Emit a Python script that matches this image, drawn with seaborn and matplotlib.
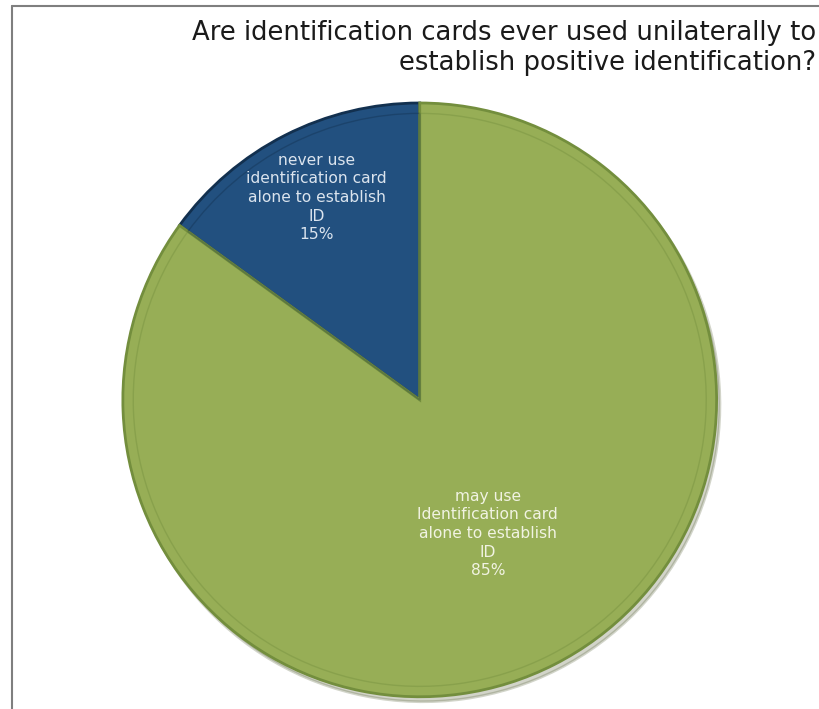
"""Pie chart: use of identification cards to establish positive ID."""
import matplotlib
matplotlib.use("Agg")
import matplotlib.pyplot as plt
from matplotlib.lines import Line2D
import numpy as np
import seaborn as sns

# -- Data ----------------------------------------------------------------------
labels = [
    "never use\nidentification card\nalone to establish\nID",
    "may use\nIdentification card\nalone to establish\nID",
]
shares = [15, 85]
colors = ["#22507f", "#97ae56"]
edge_colors = ["#12304f", "#738e3d"]
label_colors = ["#dbe4ee", "#f1f3e2"]
label_dist = [0.765, 0.505]

title = "Are identification cards ever used unilaterally to\nestablish positive identification?"

sns.set_theme(style="white")
plt.rcParams["font.family"] = ["DejaVu Sans"]

fig = plt.figure(figsize=(8.19, 7.09), dpi=100)
ax = fig.add_axes([0.150, 0.017, 0.725, 0.838])

wedges, _ = ax.pie(
    shares, colors=colors, startangle=90, counterclock=True,
    wedgeprops={"linewidth": 2.0},
    shadow={"ox": 0.008, "oy": -0.012, "shade": 0.5, "alpha": 0.25},
)
for w, ec in zip(wedges, edge_colors):
    w.set_edgecolor(ec)

# inner bevel ring
inner, _ = ax.pie(
    shares, colors=["none", "none"], startangle=90, radius=0.965,
    wedgeprops={"linewidth": 1.0, "fill": False},
)
for w, ec in zip(inner, edge_colors):
    w.set_edgecolor(ec)
    w.set_alpha(0.4)

for w, lab, pct, d, c in zip(wedges, labels, shares, label_dist, label_colors):
    mid = np.deg2rad((w.theta1 + w.theta2) / 2)
    ax.text(d * np.cos(mid), d * np.sin(mid), f"{lab}\n{pct}%",
            ha="center", va="center", fontsize=11.2, color=c, linespacing=1.3)

ax.set_xlim(-1, 1)
ax.set_ylim(-1, 1)
ax.set_aspect("equal")
ax.axis("off")

fig.text(0.996, 0.932, title, ha="right", va="center", fontsize=18.6,
         color="#1a1a1a", linespacing=1.22)

# partial frame (top and left)
fig.add_artist(Line2D([12 / 819, 1], [1 - 6 / 709, 1 - 6 / 709],
                      transform=fig.transFigure, color="#7f7f7f", linewidth=1.5))
fig.add_artist(Line2D([12 / 819, 12 / 819], [0, 1 - 6 / 709],
                      transform=fig.transFigure, color="#7f7f7f", linewidth=1.5))

fig.savefig("out.png", dpi=100)
